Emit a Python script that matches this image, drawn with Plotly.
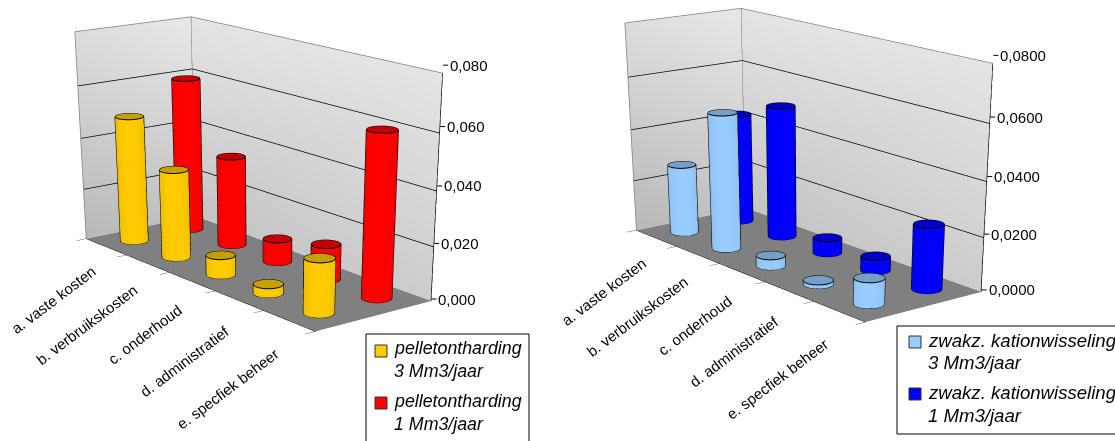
import numpy as np
import plotly.graph_objects as go

categories = ["a. vaste kosten", "b. verbruikskosten", "c. onderhoud", "d. administratief", "e. specfiek beheer"]
left_names = ["pelletontharding 3 Mm3/jaar", "pelletontharding 1 Mm3/jaar"]
left_front = [0.049, 0.034, 0.0075, 0.0035, 0.020]
left_back = [0.060, 0.035, 0.009, 0.0135, 0.0605]
right_names = ["zwakz. kationwisseling 3 Mm3/jaar", "zwakz. kationwisseling 1 Mm3/jaar"]
right_front = [0.027, 0.052, 0.004, 0.0015, 0.0095]
right_back = [0.043, 0.051, 0.006, 0.0055, 0.024]
left_ticks = [0, 0.02, 0.04, 0.06, 0.08]
right_ticks = [0, 0.02, 0.04, 0.06, 0.08]

W, H = 1115, 1400
CX = 262.0
EYE_L = np.array([5.256, -4.030, 1.571])
CEN = (0.680, -0.470, -1.908)
ASP = (1.505, 0.564, 0.815)
UP = (0.431, -0.334, 1.0)
RIGHT_LIFT = 18.0
_v = np.array(CEN) - EYE_L
_v = _v / np.linalg.norm(_v)
EYE_R = EYE_L + _v * (RIGHT_LIFT / H) * (-EYE_L).dot(_v)
LIGHT = dict(ambient=1, diffuse=0, specular=0, fresnel=0)

def shade(rgb, k):
    return "rgb(%d,%d,%d)" % tuple(int(c * k) for c in rgb)

def bars(values, ypos, rgb, name, eye, scene):
    ax, ay = ASP[0], ASP[1]
    rx = 0.19
    ry = rx / 5 * ax / ay * 2
    n = 24
    xs, ys, zs, I, J, K, fc = [], [], [], [], [], [], []
    lx, ly, lz = [], [], []
    for c, v in enumerate(values):
        x0 = c + 0.5
        bx = (x0 / 5 - 0.5) * ax; by = (ypos / 2 - 0.5) * ay
        view = np.arctan2(eye[1] - by, eye[0] - bx)
        th = np.linspace(0, 2 * np.pi, n, endpoint=False)
        cxs = x0 + rx * np.cos(th); cys = ypos + ry * np.sin(th)
        b = len(xs)
        xs += list(cxs) + list(cxs) + [x0]
        ys += list(cys) + list(cys) + [ypos]
        zs += [0] * n + [v] * n + [v]
        for i in range(n):
            a = (i + 1) % n
            mid = th[i] + np.pi / n
            t = np.cos(mid - view)
            k = 0.86 + 0.14 * max(t, 0) ** 0.5
            I += [b + i, b + a]; J += [b + a, b + n + a]; K += [b + n + i, b + n + i]
            fc += [shade(rgb, k)] * 2
            I.append(b + n + i); J.append(b + n + a); K.append(b + 2 * n)
            fc.append(shade(rgb, 0.78))
        for zz in (0.0001, v):
            lx += list(cxs) + [cxs[0], None]; ly += list(cys) + [cys[0], None]; lz += [zz] * (n + 1) + [None]
        for sgn in (1, -1):
            a = view + sgn * np.pi / 2
            lx += [x0 + rx * np.cos(a)] * 2 + [None]
            ly += [ypos + ry * np.sin(a)] * 2 + [None]
            lz += [0, v, None]
    m = go.Mesh3d(x=xs, y=ys, z=zs, i=I, j=J, k=K, facecolor=fc, name=name, scene=scene, hoverinfo="skip",
                  flatshading=True, lighting=LIGHT)
    l = go.Scatter3d(x=lx, y=ly, z=lz, mode="lines", line=dict(color="black", width=2), scene=scene,
                     hoverinfo="skip", showlegend=False)
    return [m, l]

def walls(zmax, ticks, scene):
    tr = []
    tr.append(go.Mesh3d(x=[0, 5, 5, 0], y=[2, 2, 2, 2], z=[0, 0, zmax, zmax], i=[0, 0], j=[1, 2], k=[2, 3],
                        vertexcolor=["#c4c4c4", "#cccccc", "#e4e4e4", "#e4e4e4"], scene=scene, hoverinfo="skip", lighting=LIGHT))
    tr.append(go.Mesh3d(x=[0, 0, 0, 0], y=[0, 2, 2, 0], z=[0, 0, zmax, zmax], i=[0, 0], j=[1, 2], k=[2, 3],
                        vertexcolor=["#b8b8b8", "#c4c4c4", "#e8e8e8", "#dcdcdc"], scene=scene, hoverinfo="skip", lighting=LIGHT))
    tr.append(go.Mesh3d(x=[0, 5, 5, 0], y=[0, 0, 2, 2], z=[0, 0, 0, 0], i=[0, 0], j=[1, 2], k=[2, 3],
                        color="#808080", scene=scene, hoverinfo="skip", lighting=LIGHT))
    gx, gy, gz = [], [], []
    for t in ticks[1:-1]:
        gx += [0.004, 0.004, 5, None]; gy += [0, 1.996, 1.996, None]; gz += [t, t, t, None]
    tr.append(go.Scatter3d(x=gx, y=gy, z=gz, mode="lines", line=dict(color="black", width=1.5), scene=scene,
                           hoverinfo="skip", showlegend=False))
    tr.append(go.Scatter3d(x=[0.004, 0.004, 5, None, 0.004, 0.004, None, 0.004, 0.004],
                           y=[0, 1.996, 1.996, None, 1.996, 1.996, None, 0, 0],
                           z=[zmax, zmax, zmax, None, 0, zmax, None, 0, zmax], mode="lines", line=dict(color="#808080", width=1.5),
                           scene=scene, hoverinfo="skip", showlegend=False))
    tr.append(go.Scatter3d(x=[4.996, 4.996], y=[1.996, 1.996], z=[0, zmax], mode="lines", line=dict(color="black", width=1.5),
                           scene=scene, hoverinfo="skip", showlegend=False))
    return tr

def scene_layout(eye, zmax, ticks, dec, domx, domy):
    base = dict(title="", showgrid=False, zeroline=False, showspikes=False, showbackground=False)
    ann = [dict(x=c + 0.5, y=0, z=0, text=t, textangle=-37, showarrow=False, xanchor="right", yanchor="top",
                xshift=-4, yshift=-13 - 1.9 * c, font=dict(family="Liberation Sans", size=15, color="black"))
           for c, t in enumerate(categories)]
    ann += [dict(x=5, y=2, z=t, text=("%.*f" % (dec, t)).replace(".", ","), showarrow=True, arrowhead=0, arrowwidth=1,
                 arrowcolor="black", ax=5, ay=0, standoff=0, xanchor="left", yanchor="middle", yshift=2 + 6 * t / zmax,
                 font=dict(family="Liberation Sans", size=15, color="black")) for t in ticks]
    return dict(domain=dict(x=domx, y=domy),
                xaxis=dict(base, range=[0, 5], tickvals=[0, 1, 2, 3, 4, 5], ticks="outside", ticklen=6, showticklabels=False,
                           showline=True, linecolor="black", tickcolor="black"),
                yaxis=dict(base, range=[0, 2], tickvals=[], showticklabels=False, showline=False),
                zaxis=dict(base, range=[0, zmax], tickvals=[], showticklabels=False, showline=False),
                aspectmode="manual", aspectratio=dict(x=ASP[0], y=ASP[1], z=ASP[2]),
                camera=dict(eye=dict(x=eye[0], y=eye[1], z=eye[2]), center=dict(x=CEN[0], y=CEN[1], z=CEN[2]),
                            up=dict(x=UP[0], y=UP[1], z=UP[2])),
                annotations=ann, dragmode=False)

fig = go.Figure()
for t in walls(0.08, left_ticks, "scene"): fig.add_trace(t)
for t in bars(left_front, 0.5, (255, 204, 0), left_names[0], EYE_L, "scene"): fig.add_trace(t)
for t in bars(left_back, 1.5, (255, 0, 0), left_names[1], EYE_L, "scene"): fig.add_trace(t)
for t in walls(0.08, right_ticks, "scene2"): fig.add_trace(t)
for t in bars(right_front, 0.5, (153, 204, 255), right_names[0], EYE_R, "scene2"): fig.add_trace(t)
for t in bars(right_back, 1.5, (0, 0, 255), right_names[1], EYE_R, "scene2"): fig.add_trace(t)

def px(x): return x / W
def py(y): return 1 - y / H
shapes, anns = [], []
def legend(box, rows, size):
    shapes.append(dict(type="rect", xref="paper", yref="paper", x0=px(box[0]), x1=px(box[2]), y0=py(box[1]), y1=py(box[3]),
                       line=dict(color="black", width=1), fillcolor="white"))
    for sw, col, tx, lines, ys in rows:
        shapes.append(dict(type="rect", xref="paper", yref="paper", x0=px(sw[0]), x1=px(sw[0] + 12), y0=py(sw[1]), y1=py(sw[1] + 12),
                           line=dict(color="#333333", width=1), fillcolor=col))
        for s, y in zip(lines, ys):
            anns.append(dict(xref="paper", yref="paper", x=px(tx), y=py(y), text="<i>%s</i>" % s, showarrow=False,
                             xanchor="left", yanchor="middle", font=dict(family="Liberation Sans", size=size, color="black")))
legend((366, 334, 529, 460), [((375, 345), "#FFCC00", 392, ["pelletontharding", "3 Mm3/jaar"], [348, 371]),
                              ((375, 397), "#FF0000", 392, ["pelletontharding", "1 Mm3/jaar"], [401, 424])], 17.8)
legend((897, 326, 1130, 434), [((909, 336), "#99CCFF", 926, ["zwakz. kationwisseling", "3 Mm3/jaar"], [340, 362]),
                               ((909, 388), "#0000FF", 926, ["zwakz. kationwisseling", "1 Mm3/jaar"], [392, 415])], 18.6)

fig.update_layout(width=W, height=H, margin=dict(l=0, r=0, t=0, b=0), paper_bgcolor="white", showlegend=False,
                  shapes=shapes, annotations=anns,
                  scene=scene_layout(EYE_L, 0.08, left_ticks, 3, [0, 2 * CX / W], [0, 1]),
                  scene2=scene_layout(EYE_R, 0.08, right_ticks, 4, [550 / W, (550 + 2 * CX) / W], [RIGHT_LIFT / H, 1]))
fig.write_html("out.html", config=dict(displayModeBar=False),
               post_script="document.documentElement.style.overflow='hidden';document.body.style.overflow='hidden';document.body.style.margin='0';")
